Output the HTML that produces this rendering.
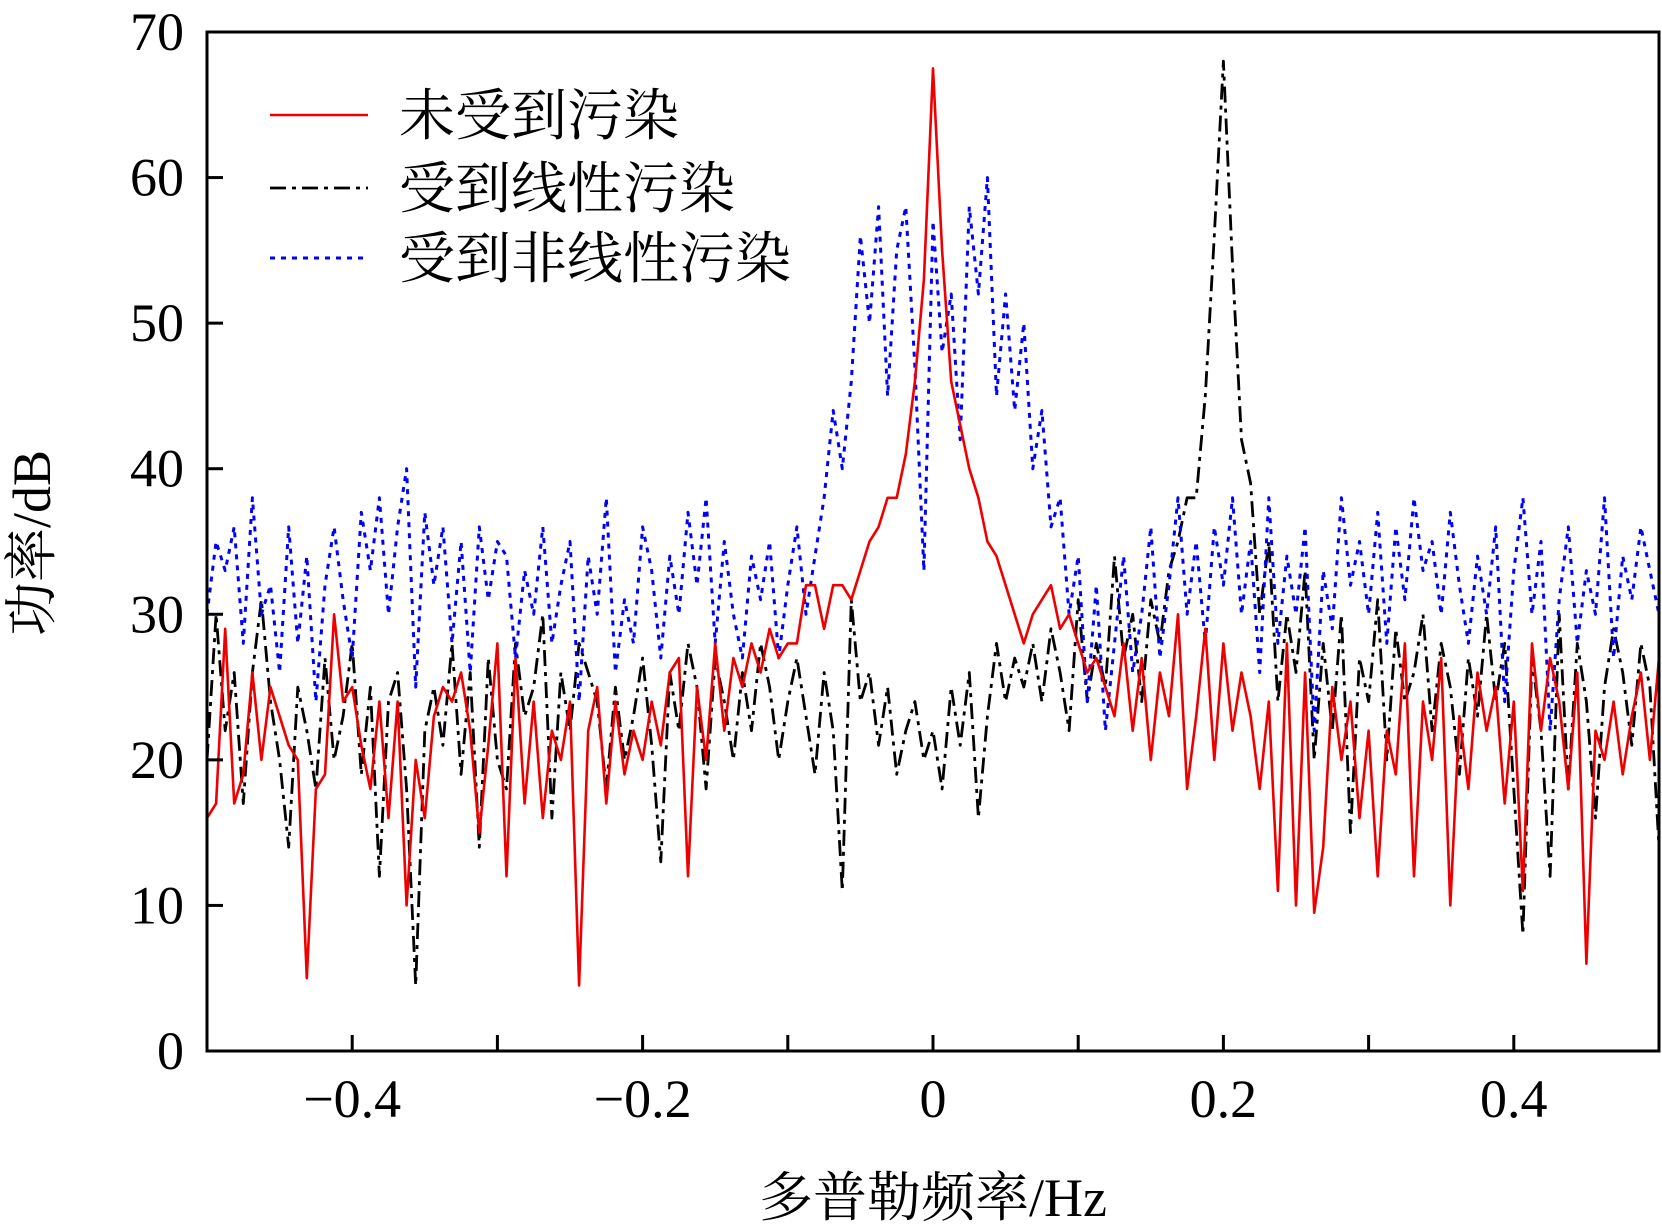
<!DOCTYPE html>
<html><head><meta charset="utf-8"><style>
html,body{margin:0;padding:0;background:#fff;}
svg{display:block;}
text{font-family:"Liberation Serif","Noto Serif CJK SC",serif;fill:#000;}
</style></head><body>
<svg id="chart" width="1662" height="1231" viewBox="0 0 1662 1231" xmlns="http://www.w3.org/2000/svg">
<g id="marks"></g>
<g id="axes"></g>
</svg>
<script>
const xStart = -0.5;
const xStep = 0.00625;
const xTicks = [-0.5,-0.4,-0.3,-0.2,-0.1,0,0.1,0.2,0.3,0.4,0.5];
const xTickLabels = ["−0.4","−0.2","0","0.2","0.4"];
const xLabelVals = [-0.4,-0.2,0,0.2,0.4];
const yTicks = [0,10,20,30,40,50,60,70];
const clean = [16,17,29,17,19,26,20,25,23,21,
20,5,18,19,30,24,25,21,18,24,
16,24,10,20,16,23,25,24,26,22,
15,21,28,12,27,17,24,16,22,20,
24,4.5,22,25,17,24,19,22,20,24,
21,26,27,12,25,20,28,22,27,25,
28,26,29,27,28,28,32,32,29,32,
32,31,33,35,36,38,38,41,46,53,
67.5,55,46,43,40,38,35,34,32,30,
28,30,31,32,29,30,28,26,27,25,
23,28,22,27,20,26,23,30,18,23,
29,20,28,22,26,23,18,24,11,28,
10,26,9.5,14,25,20,24,16,22,12,
22,19,28,12,24,20,27,10,23,18,
26,22,25,17,24,11,28,22,27,24,
18,26,6,22,20,24,19,23,26,20,27];
const linear = [20,30,22,26,17,26,31,24,20,14,
25,22,18,27,20,23,28,19,25,12,
24,26,18,4.5,22,25,21,28,19,26,
14,27,20,18,28,23,25,30,16,26,
22,28,26,24,18,25,20,23,27,21,
13,26,22,28,25,18,27,24,20,26,
22,28,25,20,24,27,23,19,26,22,
11,31,24,26,21,25,19,22,24,20,
22,18,25,21,26,16,23,28,24,27,
25,28,24,29,26,22,31,24,28,25,
34,27,30,24,31,28,33,35,38,38,
45,56,68,54,42,39,30,35,24,30,
26,33,20,28,22,30,15,27,24,31,
20,29,24,26,30,22,28,25,19,27,
23,30,24,28,18,8,27,22,12,30,
18,28,24,16,25,29,26,21,28,25,14];
const nonlinear = [30,35,33,36,28,38,30,32,26,36,
28,34,24,32,36,31,27,37,33,38,
30,36,40,25,37,32,36,28,35,26,
36,31,35,34,27,33,30,36,28,32,
35,24,34,30,38,26,31,28,36,33,
27,34,30,37,32,38,28,35,30,27,
34,31,35,27,32,36,30,34,38,44,
40,46,56,50,58,45,55,58,47,33,
57,48,52,42,58,52,60,45,52,44,
50,40,44,36,38,30,34,24,32,22,
28,34,26,30,36,27,32,38,30,35,
28,36,32,38,30,35,26,38,28,34,
30,36,22,33,29,38,32,35,30,37,
28,36,31,38,33,35,30,37,32,28,
34,30,36,24,33,38,30,35,22,31,
36,28,33,30,38,27,34,31,36,33,30];

const L=207,R=1659,T=32,B=1051;
const xs = v => L + (v+0.5)*(R-L);
const ys = v => B - v/70*(B-T);
const NS="http://www.w3.org/2000/svg";
function mk(tag, attrs, parent){const e=document.createElementNS(NS,tag);for(const k in attrs)e.setAttribute(k,attrs[k]);parent.appendChild(e);return e;}
const marks=document.getElementById('marks'), axes=document.getElementById('axes');

function series(arr, color, dash, w, name){
  const d = arr.map((v,i)=>(i?'L':'M')+xs(xStart+i*xStep).toFixed(1)+','+ys(v).toFixed(1)).join('');
  const p = mk('path',{d:d,fill:'none',stroke:color,'stroke-width':w,'stroke-dasharray':dash,'stroke-linejoin':'round'},marks);
  
  
}
series(linear,'#000','16 6 4 6',2.8,'series-linear');
series(nonlinear,'#0000ff','5 6',3,'series-nonlinear');
series(clean,'#ee0000','none',2.6,'series-clean');

const frame = mk('rect',{x:L,y:T,width:R-L,height:B-T,fill:'none',stroke:'#000','stroke-width':3},axes);


xTicks.forEach(v=>{
  const t=mk('line',{x1:xs(v),x2:xs(v),y1:B,y2:B-16,stroke:'#000','stroke-width':3},axes);
  
  
});
xLabelVals.forEach((v,i)=>{
  const t=mk('text',{x:xs(v),y:1117,'text-anchor':'middle','font-size':54},axes);
  t.textContent=xTickLabels[i];
  
  
});
yTicks.forEach(v=>{
  const t=mk('line',{x1:L,x2:L+16,y1:ys(v),y2:ys(v),stroke:'#000','stroke-width':3},axes);
  
  
  const l=mk('text',{x:184,y:ys(v)+18,'text-anchor':'end','font-size':54},axes);
  l.textContent=String(v);
  
  
});
</script>
<div style="position:absolute;left:0;top:0;width:1662px;height:1231px;pointer-events:none;">
<svg width="1662" height="1231" style="position:absolute;left:0;top:0">
<text x="933" y="1216" text-anchor="middle" font-size="54">多普勒频率/Hz</text>
<text transform="translate(50,543) rotate(-90)" text-anchor="middle" font-size="54">功率/dB</text>
<g>
<line x1="270" x2="368" y1="115" y2="115" stroke="#ee0000" stroke-width="2.6"/>
<text x="399" y="135" font-size="56">未受到污染</text>
<line x1="270" x2="368" y1="188" y2="188" stroke="#000" stroke-width="2.8" stroke-dasharray="16 6 4 6"/>
<text x="399" y="208" font-size="56">受到线性污染</text>
<line x1="270" x2="368" y1="258" y2="258" stroke="#0000ff" stroke-width="3" stroke-dasharray="5 6"/>
<text x="399" y="278" font-size="56">受到非线性污染</text>
</g>
</svg>
</div>
</body></html>
